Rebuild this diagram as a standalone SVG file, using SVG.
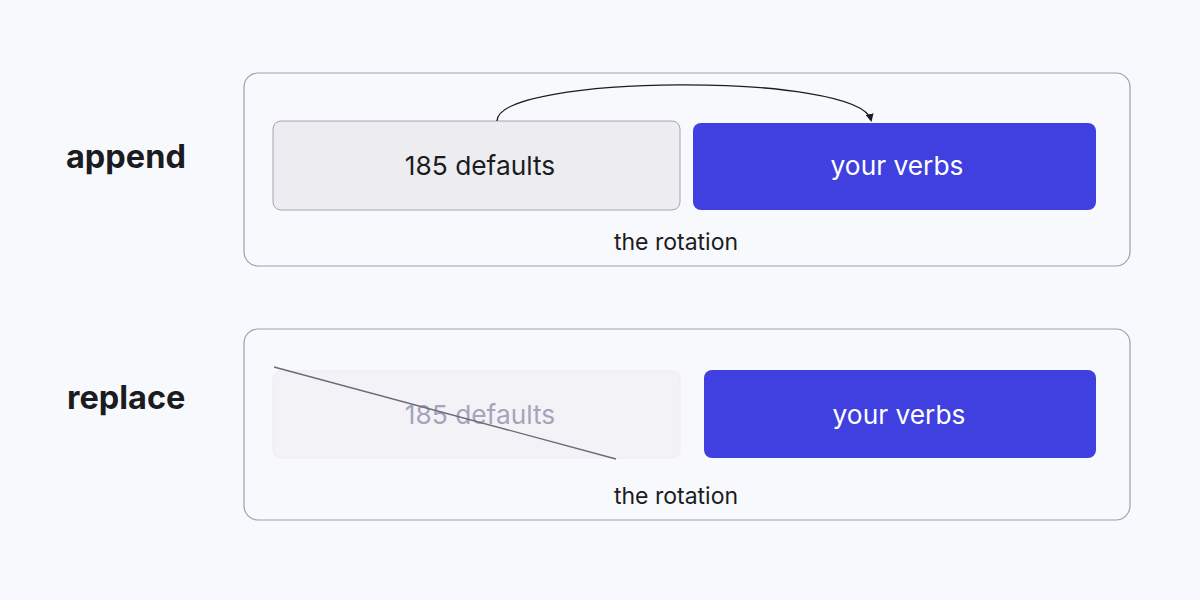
<svg xmlns="http://www.w3.org/2000/svg" width="1200" height="600" viewBox="0 0 1200 600">
<style>
.panel{fill:#f8f9fc;stroke:#9d9db0;stroke-width:1.2}
.lbl{font-family:Inter,"Liberation Sans",sans-serif;font-weight:700;font-size:32.5px;fill:#1b1b22}
.box-t{font-family:Inter,"Liberation Sans",sans-serif;font-size:26.3px;text-anchor:middle}
.cap{font-family:Inter,"Liberation Sans",sans-serif;font-size:23px;fill:#1b1b22;text-anchor:middle}
.verbs{fill:#4040e0}
</style>
<defs>
<marker id="ah" markerWidth="8" markerHeight="8" refX="6" refY="4" orient="auto" markerUnits="userSpaceOnUse">
<path d="M0,0 L8,4 L0,8 Z" fill="#1b1b22"/>
</marker>
</defs>
<rect width="1200" height="600" fill="#f8f9fc"/>
<g id="append-panel">
<rect class="panel" x="244" y="73" width="886" height="193" rx="14"/>
<text class="lbl" x="66" y="168">append</text>
<text class="cap" x="676" y="250">the rotation</text>
</g>
<g id="append-defaults">
<rect x="273" y="121" width="407" height="89" rx="8" fill="#ededf1" stroke="#a4a4b2" stroke-width="1"/>
<text class="box-t" x="480" y="175" fill="#1b1b22">185 defaults</text>
</g>
<g id="append-verbs">
<rect class="verbs" x="693" y="123" width="403" height="87" rx="8"/>
<text class="box-t" x="897" y="175" fill="#ffffff">your verbs</text>
</g>
<g id="replace-panel">
<rect class="panel" x="244" y="329" width="886" height="191" rx="14"/>
<text class="lbl" x="67" y="409">replace</text>
<text class="cap" x="676" y="504">the rotation</text>
</g>
<g id="replace-defaults">
<rect x="273" y="371" width="407" height="87" rx="8" fill="#f3f3f7" stroke="#ececf2" stroke-width="1"/>
<text class="box-t" x="480" y="424" fill="#a4a4ba">185 defaults</text>
</g>
<g id="replace-verbs">
<rect class="verbs" x="704" y="370" width="392" height="88" rx="8"/>
<text class="box-t" x="899" y="424" fill="#ffffff">your verbs</text>
</g>
<g id="connectors">
<path d="M497,121 C497,74 860,72 871,120" fill="none" stroke="#1b1b22" stroke-width="1.3" marker-end="url(#ah)"/>
<line x1="274" y1="367" x2="616" y2="459" stroke="#6a6a78" stroke-width="1.3"/>
</g>
</svg>
